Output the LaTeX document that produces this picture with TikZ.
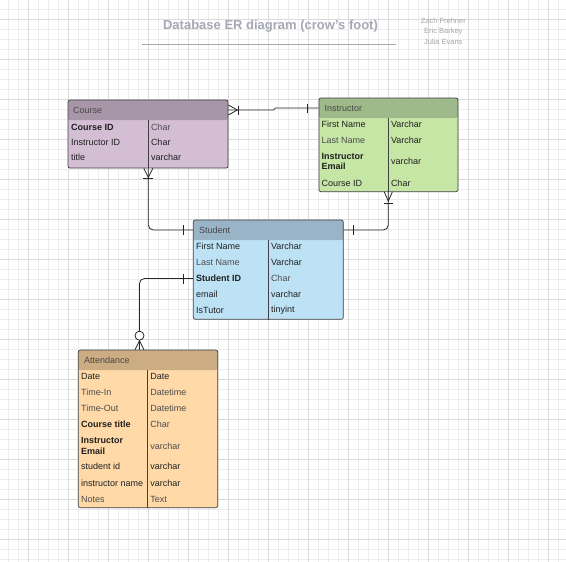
\documentclass[tikz,border=0pt]{standalone}
\usepackage{fontspec}
\setmainfont{Liberation Sans}
\usepackage{xcolor}
\usepackage{tikz}
\usetikzlibrary{positioning}

\definecolor{coursehead}{RGB}{167,150,167}
\definecolor{coursebody}{RGB}{212,190,212}
\definecolor{insthead}{RGB}{158,186,138}
\definecolor{instbody}{RGB}{198,230,166}
\definecolor{studhead}{RGB}{153,180,199}
\definecolor{studbody}{RGB}{190,226,245}
\definecolor{atthead}{RGB}{204,172,131}
\definecolor{attbody}{RGB}{255,217,168}
\definecolor{titlegray}{RGB}{166,169,181}

\begin{document}
\begin{tikzpicture}[x=1pt, y=-1pt,
  every node/.style={font=\fontsize{9}{10.7}\selectfont, text=black!88, inner sep=0pt},
  tablebox/.style={draw=black!75, line width=0.7pt, rounded corners=2pt},
  tablehead/.style={path picture={\fill[#1] (path picture bounding box.north west) rectangle ([yshift=-20pt]path picture bounding box.north east);}},
  divline/.style={draw=black!75, line width=0.7pt},
  cell/.style={anchor=west},
  dimcell/.style={anchor=west, text=black!70},
  headtext/.style={anchor=west, text=black!72},
  conn/.style={draw=black!85, line width=0.8pt},
  minorgrid/.style={draw=black!7, line width=0.8pt},
  majorgrid/.style={draw=black!14, line width=0.8pt}]

\fill[white] (0,0) rectangle (566,562);
\useasboundingbox (0,0) rectangle (566,562);

% background grid
\foreach \gx in {0,...,55} \draw[minorgrid] (8.3+10*\gx,0) -- (8.3+10*\gx,562);
\foreach \gy in {0,...,55} \draw[minorgrid] (0,9.3+10*\gy) -- (566,9.3+10*\gy);
\foreach \gx in {0,...,13} \draw[majorgrid] (28.3+40*\gx,0) -- (28.3+40*\gx,562);
\foreach \gy in {0,...,13} \draw[majorgrid] (0,19.3+40*\gy) -- (566,19.3+40*\gy);

% title
\node[font=\fontsize{13}{15}\selectfont\bfseries, text=titlegray] (title) at (270.5,25.7) {Database ER diagram (crow's foot)};
\draw[draw=black!35, line width=0.8pt] (141.7,44.3) -- (396,44.3);
\node[font=\fontsize{7.5}{10.5}\selectfont, text=black!35, align=center] (authors) at (443.3,31) {Zach Frehner\\Eric Barkey\\Julia Evans};

% Course
\node[tablebox, fill=coursebody, tablehead=coursehead, minimum width=160pt, minimum height=68pt] (course) at (148,134) {};
\coordinate (coursediv) at (148.3,120);
\draw[divline] (coursediv) -- (coursediv |- course.south);
\node[headtext] (coursehd) at (73,110) {Course};
\node[cell] (courseid) at (71,127) {\textbf{Course ID}};
\node[dimcell] (courseidtype) at (150.8,127) {Char};
\node[cell] (courseinst) at (71,142) {Instructor ID};
\node[cell] (courseinsttype) at (150.8,142) {Char};
\node[cell] (coursetitle) at (71,157) {title};
\node[cell] (coursetitletype) at (150.8,157) {varchar};

% Instructor
\node[tablebox, fill=instbody, tablehead=insthead, minimum width=139pt, minimum height=93.7pt] (instructor) at (388.5,144.85) {};
\coordinate (instructordiv) at (388.3,118);
\draw[divline] (instructordiv) -- (instructordiv |- instructor.south);
\node[headtext] (instructorhd) at (324.3,108) {Instructor};
\node[cell] (instfirst) at (321.5,124.5) {First Name};
\node[cell] (instfirsttype) at (390.8,124.5) {Varchar};
\node[dimcell] (instlast) at (321.5,140) {Last Name};
\node[cell] (instlasttype) at (390.8,140) {Varchar};
\node[cell, align=left] (instemail) at (321.5,161.5) {\textbf{Instructor}\\\textbf{Email}};
\node[cell] (instemailtype) at (390.8,161.5) {varchar};
\node[cell] (instcourse) at (321.5,183.5) {Course ID};
\node[cell] (instcoursetype) at (390.8,183.5) {Char};

% Student
\node[tablebox, fill=studbody, tablehead=studhead, minimum width=150pt, minimum height=99.3pt] (student) at (268.3,269.65) {};
\coordinate (studentdiv) at (268.3,240);
\draw[divline] (studentdiv) -- (studentdiv |- student.south);
\node[headtext] (studenthd) at (199,230) {Student};
\node[cell] (studfirst) at (196,246.5) {First Name};
\node[cell] (studfirsttype) at (270.8,246.5) {Varchar};
\node[dimcell] (studlast) at (196,262) {Last Name};
\node[cell] (studlasttype) at (270.8,262) {Varchar};
\node[cell] (studentid) at (196,278.5) {\textbf{Student ID}};
\node[dimcell] (studentidtype) at (270.8,278.5) {Char};
\node[cell] (studemail) at (196,294) {email};
\node[cell] (studemailtype) at (270.8,294) {varchar};
\node[cell] (studtutor) at (196,310) {IsTutor};
\node[cell] (studtutortype) at (270.8,310) {tinyint};

% Attendance
\node[tablebox, fill=attbody, tablehead=atthead, minimum width=139.4pt, minimum height=157.7pt] (attendance) at (148,428.85) {};
\coordinate (attendancediv) at (147.7,370);
\draw[divline] (attendancediv) -- (attendancediv |- attendance.south);
\node[headtext] (attendancehd) at (84,360) {Attendance};
\node[cell] (attdate) at (81,376) {Date};
\node[cell] (attdatetype) at (150.2,376) {Date};
\node[dimcell] (atttimein) at (81,392) {Time-In};
\node[dimcell] (atttimeintype) at (150.2,392) {Datetime};
\node[dimcell] (atttimeout) at (81,408) {Time-Out};
\node[dimcell] (atttimeouttype) at (150.2,408) {Datetime};
\node[cell] (attcourse) at (81,424) {\textbf{Course title}};
\node[dimcell] (attcoursetype) at (150.2,424) {Char};
\node[cell, align=left] (attemail) at (81,446) {\textbf{Instructor}\\\textbf{Email}};
\node[dimcell] (attemailtype) at (150.2,446) {varchar};
\node[cell] (attstudent) at (81,466.5) {student id};
\node[cell] (attstudenttype) at (150.2,466.5) {varchar};
\node[cell] (attinst) at (81,483) {instructor name};
\node[cell] (attinsttype) at (150.2,483) {varchar};
\node[dimcell] (attnotes) at (81,499) {Notes};
\node[dimcell] (attnotestype) at (150.2,499) {Text};

% course -- instructor
\coordinate (ce) at (course.east |- coursehd);
\coordinate (iw) at (instructor.west |- instructorhd);
\draw[conn] (ce) -- ++(45,0) -- ++(2,-2) -- (iw);
\draw[conn] ([yshift=5pt]ce) -- ([xshift=9pt]ce) -- ([yshift=-5pt]ce);
\draw[conn] ([xshift=10pt,yshift=4.5pt]ce) -- ([xshift=10pt,yshift=-4.5pt]ce);
\draw[conn] ([xshift=-11pt,yshift=4.5pt]iw) -- ([xshift=-11pt,yshift=-4.5pt]iw);

% course -- student
\coordinate (cs) at (coursediv |- course.south);
\coordinate (sw) at (student.west |- studenthd);
\draw[conn, rounded corners=5pt] (cs) |- (sw);
\draw[conn] ([xshift=-4.5pt]cs) -- ([yshift=-9pt]cs) -- ([xshift=4.5pt]cs);
\draw[conn] ([xshift=-5pt,yshift=-10pt]cs) -- ([xshift=5pt,yshift=-10pt]cs);
\draw[conn] ([xshift=-10pt,yshift=5pt]sw) -- ([xshift=-10pt,yshift=-5pt]sw);

% instructor -- student
\coordinate (is) at (instructordiv |- instructor.south);
\coordinate (se) at (student.east |- studenthd);
\draw[conn, rounded corners=5pt] (is) |- (se);
\draw[conn] ([xshift=-4pt]is) -- ([yshift=-9pt]is) -- ([xshift=4pt]is);
\draw[conn] ([xshift=-4.5pt,yshift=-11.5pt]is) -- ([xshift=4.5pt,yshift=-11.5pt]is);
\draw[conn] ([xshift=10pt,yshift=5pt]se) -- ([xshift=10pt,yshift=-5pt]se);

% student -- attendance
\coordinate (sid) at (student.west |- studentid);
\coordinate (an) at ([xshift=-8.5pt]attendance.north);
\draw[conn, rounded corners=5pt] (sid) -| (an);
\draw[conn] ([xshift=-10pt,yshift=5pt]sid) -- ([xshift=-10pt,yshift=-5pt]sid);
\draw[conn] ([xshift=-4.5pt]an) -- ([yshift=9pt]an) -- ([xshift=4.5pt]an);
\draw[conn, fill=white] ([yshift=14pt]an) circle (4.5pt);

\end{tikzpicture}
\end{document}
